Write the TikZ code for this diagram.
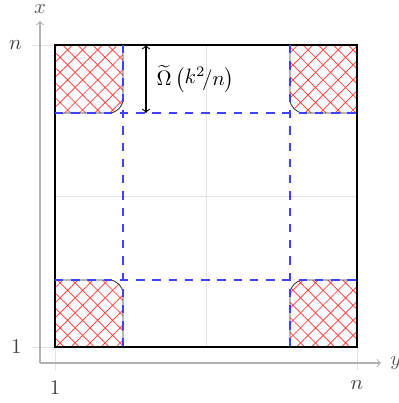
\documentclass[tikz,border=0pt]{standalone}
\usetikzlibrary{patterns.meta}
\begin{document}
\begin{tikzpicture}[x=0.48pt,y=-0.48pt,
  gridline/.style={gray!22,line width=0.4pt},
  axisline/.style={gray!60,line width=0.5pt,->},
  ticklabel/.style={text=black!75,inner sep=3.33pt},
  axlabel/.style={text=black!65,inner sep=3.33pt},
  hatchreg/.style={pattern={Hatch[angle=45,distance=5.1pt,line width=0.4pt]},pattern color=red!70,draw=black!80,line width=0.4pt},
  bluedash/.style={blue!75,line width=0.5pt,dash pattern=on 4pt off 3.8pt},
  sqline/.style={black,line width=0.5pt}]
\useasboundingbox (0,0) rectangle (399,403);
% grid
\draw[gridline] (206,45) -- (206,347);
\draw[gridline] (55,196) -- (357,196);
\draw[gridline] (32,45) -- (55,45);
\draw[gridline] (32,347) -- (55,347);
\draw[gridline] (55,347) -- (55,370);
\draw[gridline] (357,347) -- (357,370);
% hatched corners
\path[hatchreg] (55,45) -- (123,45) -- (123,99) .. controls (123,106.7) and (116.7,113) .. (109,113) -- (55,113) -- cycle;
\path[hatchreg] (357,45) -- (290,45) -- (290,99) .. controls (290,106.7) and (296.3,113) .. (304,113) -- (357,113) -- cycle;
\path[hatchreg] (55,347) -- (123,347) -- (123,294) .. controls (123,286.3) and (116.7,280) .. (109,280) -- (55,280) -- cycle;
\path[hatchreg] (357,347) -- (290,347) -- (290,294) .. controls (290,286.3) and (296.3,280) .. (304,280) -- (357,280) -- cycle;
% square
\coordinate (S1) at (55,45);
\coordinate (S2) at (357,347);
\draw[sqline] (S1) rectangle (S2);
% dashed lines
\coordinate (d1a) at (123,45); \coordinate (d1b) at (123,347);
\coordinate (d2a) at (290,45); \coordinate (d2b) at (290,347);
\coordinate (d3a) at (55,113); \coordinate (d3b) at (357,113);
\coordinate (d4a) at (55,280); \coordinate (d4b) at (357,280);
\draw[bluedash] (d1a) -- (d1b);
\draw[bluedash] (d2a) -- (d2b);
\draw[bluedash] (d3a) -- (d3b);
\draw[bluedash] (d4a) -- (d4b);
% measurement arrow
\coordinate (a1) at (146,45);
\coordinate (a2) at (146,113);
\draw[<->,line width=0.5pt] (a1) -- (a2) node[midway,right,inner sep=3.33pt,xshift=1.5pt] (lab) {$\widetilde{\Omega}\left(\raisebox{0.8pt}{$k^2$}\!/n\right)$};
% axes
\coordinate (O) at (40,363);
\coordinate (xe) at (40,21);
\coordinate (ye) at (381,363);
\draw[axisline] (O) -- (xe);
\draw[axisline] (O) -- (ye);
\node[axlabel,anchor=south] (xl) at (xe) {$x$};
\node[axlabel,anchor=west] (yl) at (383,363) {$y$};
% tick labels
\node[ticklabel,anchor=east] (ln) at (29,45) {$n$};
\node[ticklabel,anchor=east] (l1) at (29,347) {$1$};
\node[ticklabel,anchor=north] (b1) at (55,373.5) {$1$};
\node[ticklabel,anchor=north] (bn) at (357,373.5) {$n$};
\end{tikzpicture}
\end{document}
